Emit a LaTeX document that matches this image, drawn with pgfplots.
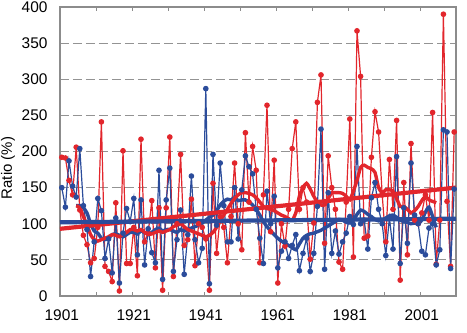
\documentclass[border=0pt]{standalone}
\usepackage{fontspec}
\setmainfont{Liberation Sans}
\usepackage{pgfplots}
\usepackage{pgfplotstable}
\pgfplotsset{compat=1.18}
\definecolor{rd}{RGB}{226,38,44}
\definecolor{bl}{RGB}{43,76,155}
\definecolor{fr}{RGB}{140,140,140}

\pgfplotstableread{
year red blue
1901 192 150
1902 191 123
1903 160 187
1904 140 152
1905 206 137
1906 119 204
1907 84 125
1908 71 92
1909 46 27
1910 52 75
1911 95 135
1912 241 118
1913 41 52
1914 34 79
1915 20 32
1916 129 108
1917 7 18
1918 201 87
1919 45 121
1920 45 103
1921 95 135
1922 28 57
1923 217 133
1924 75 43
1925 87 93
1926 132 60
1927 39 46
1928 122 174
1929 8 23
1930 122 133
1931 220 177
1932 27 34
1933 100 78
1934 196 119
1935 70 30
1936 78 85
1937 134 166
1938 42 78
1939 100 46
1940 95 66
1941 79 287
1942 8 17
1943 156 196
1944 59 98
1945 110 184
1946 95 125
1947 46 75
1948 110 75
1949 184 150
1950 100 79
1951 64 147
1952 226 194
1953 130 179
1954 207 169
1955 174 120
1956 46 80
1957 140 45
1958 264 145
1959 89 100
1960 188 138
1961 18 39
1962 100 62
1963 69 75
1964 120 52
1965 204 70
1966 241 85
1967 120 35
1968 150 59
1969 130 80
1970 51 34
1971 101 59
1972 268 124
1973 306 231
1974 73 37
1975 194 143
1976 150 59
1977 120 90
1978 47 58
1979 37 75
1980 130 87
1981 245 110
1982 54 99
1983 367 207
1984 304 100
1985 80 105
1986 83 65
1987 192 136
1988 255 157
1989 227 120
1990 140 100
1991 75 56
1992 189 108
1993 120 65
1994 243 193
1995 22 45
1996 157 122
1997 57 73
1998 211 184
1999 105 112
2000 100 100
2001 115 62
2002 140 57
2003 105 94
2004 254 100
2005 44 43
2006 105 64
2007 390 230
2008 131 227
2009 41 38
2010 227 148
}\rawdata

\pgfplotstableread{
year rs bs
1905 125 125
1906 122 125
1907 110 122
1908 98 115
1909 85 100
1910 78 90
1911 76 87
1912 78 80
1913 80 78
1914 82 80
1915 85 85
1916 84 86
1917 82 84
1918 86 82
1919 88 85
1920 92 88
1921 92 88
1922 90 86
1923 92 90
1924 88 88
1925 85 86
1926 86 88
1927 88 92
1928 90 94
1929 88 90
1930 90 92
1931 92 92
1932 96 90
1933 98 88
1934 100 92
1935 96 90
1936 92 92
1937 90 94
1938 88 96
1939 86 98
1940 84 101
1941 82 105
1942 84 109
1943 88 112
1944 95 118
1945 104 126
1946 112 131
1947 120 134
1948 128 133
1949 135 136
1950 140 132
1951 143 133
1952 143 133
1953 142 130
1954 140 126
1955 136 120
1956 130 112
1957 124 103
1958 121 96
1959 120 90
1960 118 85
1961 115 80
1962 112 76
1963 110 73
1964 107 70
1965 105 67
1966 115 64
1967 138 72
1968 150 80
1969 156 84
1970 148 86
1971 138 87
1972 130 89
1973 126 91
1974 126 94
1975 135 97
1976 143 100
1977 143 103
1978 143 106
1979 142 105
1980 138 102
1981 133 101
1982 145 105
1983 160 113
1984 178 119
1985 181 117
1986 178 113
1987 176 110
1988 171 106
1989 150 104
1990 143 105
1991 147 108
1992 147 111
1993 145 112
1994 135 109
1995 124 105
1996 124 103
1997 120 102
1998 115 100
1999 118 101
2000 124 100
2001 132 105
2002 138 116
2003 133 123
2004 131 110
2005 129 95
}\smoothdata

\begin{document}
\begin{tikzpicture}
\begin{axis}[name=ax,
  scale only axis, width=396bp, height=289bp,
  xmin=1900.5, xmax=2010.5, ymin=0, ymax=400,
  xtick={1901,1921,1941,1961,1981,2001},
  xticklabels={1901,1921,1941,1961,1981,2001},
  ytick={0,50,...,400},
  major tick length=0pt,
  extra x ticks={1910.5,1920.5,1930.5,1940.5,1950.5,1960.5,1970.5,1980.5,1990.5,2000.5},
  extra x tick labels={},
  extra x tick style={major tick length=4bp, tick align=inside, grid=none, tick style={fr, line width=0.8bp}},
  ymajorgrids,
  major grid style={gray!85, line width=0.8bp, dash pattern=on 9bp off 4bp},
  axis line style={fr, line width=1.1bp},
  tick label style={font=\fontsize{15.5}{18}\selectfont, /pgf/number format/assume math mode=true},
  xticklabel style={yshift=-10bp},
  yticklabel style={xshift=-9bp},
  ylabel={Ratio (\%)},
  ylabel style={font=\fontsize{15}{18}\selectfont, at={(axis description cs:-0.131,0.443)}, anchor=center},
  clip=true,
]
\addplot[rd, line width=1.2bp, mark=*, mark size=2.2bp, mark options={solid, fill=rd, draw=rd}] table[x=year, y=red] {\rawdata};
\addplot[bl, line width=1.2bp, mark=*, mark size=2.2bp, mark options={solid, fill=bl, draw=bl}] table[x=year, y=blue] {\rawdata};
\addplot[bl, line width=3.4bp, smooth, tension=0.4] table[x=year, y=bs] {\smoothdata};
\addplot[rd, line width=3.4bp, smooth, tension=0.4] table[x=year, y=rs] {\smoothdata};
\addplot[rd, line width=4.2bp] coordinates {(1900.5,93) (2010.5,150)};
\addplot[bl, line width=4.2bp] coordinates {(1900.5,102) (2010.5,107)};
\end{axis}
\pgfresetboundingbox
\path[use as bounding box] ([xshift=-60bp,yshift=-37bp]ax.south west) rectangle ([xshift=11bp,yshift=7bp]ax.north east);
\end{tikzpicture}
\end{document}
